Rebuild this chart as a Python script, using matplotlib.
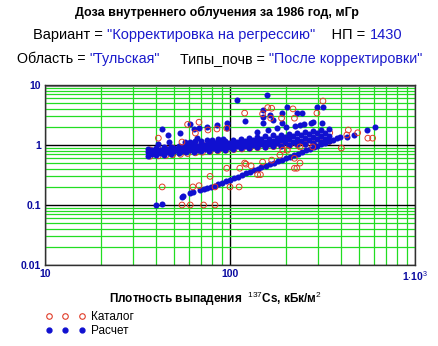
import matplotlib.pyplot as plt
from matplotlib.lines import Line2D

plt.rcParams['font.family'] = ['Liberation Sans', 'DejaVu Sans']
plt.rcParams['mathtext.fontset'] = 'custom'
plt.rcParams['mathtext.rm'] = 'Liberation Sans'
plt.rcParams['mathtext.bf'] = 'Liberation Sans:bold'

# Расчет: основная полоса (три уровня на каждую плотность)
band_x = [36, 40, 44, 48, 53, 58, 64, 70, 77, 85, 94, 104, 115, 127, 140, 155, 171, 189, 209, 231, 255, 282, 312, 345]
band_low = [0.66, 0.68, 0.69, 0.71, 0.73, 0.75, 0.77, 0.79, 0.80, 0.82, 0.84, 0.86, 0.88, 0.90, 0.92, 0.94, 0.96, 0.98, 1.00, 1.02, 1.05, 1.08, 1.12, 1.18]
band_mid = [0.76, 0.78, 0.80, 0.82, 0.85, 0.87, 0.89, 0.91, 0.94, 0.96, 0.99, 1.02, 1.05, 1.08, 1.11, 1.14, 1.17, 1.21, 1.24, 1.28, 1.31, 1.35, 1.39, 1.43]
band_high = [0.86, 0.89, 0.91, 0.94, 0.97, 1.00, 1.03, 1.06, 1.09, 1.12, 1.16, 1.20, 1.25, 1.29, 1.34, 1.39, 1.44, 1.49, 1.54, 1.60, 1.66, 1.72, 1.78, 1.82]
band2_x = [38, 42, 46, 50, 55, 61, 67, 73, 81, 89, 99, 109, 121, 133, 147, 163, 180, 199, 220, 243, 268, 296, 328]
band2_q1 = [0.72, 0.74, 0.75, 0.78, 0.80, 0.82, 0.84, 0.86, 0.88, 0.90, 0.93, 0.95, 0.98, 1.00, 1.03, 1.05, 1.08, 1.11, 1.14, 1.17, 1.20, 1.24, 1.28]
band2_q3 = [0.82, 0.84, 0.87, 0.89, 0.92, 0.95, 0.97, 1.00, 1.03, 1.06, 1.09, 1.13, 1.17, 1.20, 1.24, 1.28, 1.33, 1.37, 1.42, 1.46, 1.51, 1.56, 1.60]

# Расчет: нижняя линия
calc_line_x = [40, 43, 55, 56, 61, 63, 69, 72, 75, 79, 83, 86, 90, 95, 100, 105, 110, 116, 122, 128, 134, 141, 148, 156,
               164, 172, 181, 190, 200, 210, 221, 232, 244, 256, 269, 283, 297, 312, 328, 345, 362, 380, 395]
calc_line_y = [0.10, 0.102, 0.137, 0.14, 0.16, 0.165, 0.18, 0.185, 0.19, 0.20, 0.21, 0.22, 0.235, 0.249, 0.265, 0.28, 0.297,
               0.318, 0.339, 0.36, 0.38, 0.40, 0.425, 0.45, 0.48, 0.51, 0.54, 0.57, 0.61, 0.64, 0.68, 0.72, 0.77, 0.81, 0.86,
               0.91, 0.96, 1.02, 1.08, 1.15, 1.22, 1.29, 1.36]

# Расчет: отдельные точки
calc_out_x = [43, 46, 47, 41, 54, 61, 64, 68, 75, 85, 57, 61, 65, 70, 75, 80, 86, 92, 96,
              109, 158, 204, 190, 150, 150, 150, 171, 120, 96, 230, 245, 239, 295, 318, 280, 164, 190, 315,
              140, 160, 180, 200, 225, 250, 275, 550, 608, 428, 466, 66]
calc_out_y = [1.85, 1.47, 1.12, 1.03, 1.58, 2.2, 1.85, 1.9, 2.0, 2.15, 1.12, 1.12, 1.15, 1.18, 1.2, 1.22, 1.25, 1.28, 1.9,
              5.6, 6.8, 4.3, 3.4, 3.8, 2.9, 2.3, 2.6, 2.5, 2.3, 3.4, 3.4, 2.15, 4.3, 4.3, 2.4, 3.2, 2.3, 2.3,
              1.65, 1.8, 1.9, 2.0, 2.1, 2.2, 2.3, 1.78, 2.0, 1.36, 1.47, 1.3]

# Каталог: полосы
cat_band_x = [37, 41, 45, 49, 54, 59, 65, 71, 78, 86, 95, 105, 116, 128, 141, 156, 172, 190, 210, 232, 256, 283, 313, 346]
cat_band_low = [0.65, 0.66, 0.67, 0.69, 0.70, 0.72, 0.74, 0.76, 0.78, 0.80, 0.82, 0.84, 0.86, 0.88, 0.90, 0.92, 0.94, 0.96, 0.98, 1.00, 1.03, 1.06, 1.10, 1.15]
cat_band_up = [0.83, 0.85, 0.87, 0.89, 0.92, 0.95, 0.97, 1.00, 1.02, 1.05, 1.08, 1.11, 1.14, 1.18, 1.21, 1.25, 1.29, 1.33, 1.37, 1.41, 1.45, 1.50, 1.55, 1.60]

# Каталог: отдельные точки
cat_out_x = [41, 59, 68, 65, 76, 85, 55, 78, 43, 63, 68, 83, 55, 61, 72, 83, 100, 112, 96, 120, 122, 113, 141, 146,
             186, 204, 230, 239, 239, 318, 295, 120, 219, 168, 160, 166, 190, 223, 556, 590, 490, 428, 436, 280, 400,
             223, 96, 150, 168, 193, 223, 150, 130]
cat_out_y = [1.3, 2.2, 2.4, 1.58, 1.78, 1.85, 1.12, 0.30, 0.2, 0.2, 0.21, 0.2, 0.1, 0.1, 0.1, 0.1, 0.2, 0.2, 0.41, 0.5, 0.48, 0.41, 0.32, 0.32,
             0.68, 0.82, 0.41, 0.5, 0.93, 5.4, 3.4, 3.4, 4.0, 4.1, 4.2, 2.8, 2.8, 2.8, 1.3, 1.3, 1.6, 1.47, 1.78, 0.93, 0.89,
             0.41, 1.9, 3.3, 0.56, 0.82, 0.6, 0.52, 0.45]

BLUE = '#1010d0'
RED = '#e03c28'
TXT_BLUE = '#1a1acc'
TICK_BLUE = '#0a0aa0'

fig = plt.figure(figsize=(4.38, 3.46), dpi=100)
ax = fig.add_axes([45 / 438, 81 / 346, 370 / 438, 180 / 346])
ax.set_xscale('log')
ax.set_yscale('log')
ax.set_xlim(10, 1000)
ax.set_ylim(0.01, 10)

calc_x = band_x * 3 + band2_x * 2 + calc_line_x + calc_out_x
calc_y = band_low + band_mid + band_high + band2_q1 + band2_q3 + calc_line_y + calc_out_y

# полосы каталога частично закрыты расчетом, отдельные точки каталога сверху
ax.scatter(cat_band_x * 2, cat_band_low + cat_band_up, s=17, facecolors='none', edgecolors=RED,
           linewidths=0.7, zorder=3)
ax.scatter(calc_x, calc_y, s=19, color=BLUE, linewidths=0, zorder=4)
ax.scatter(cat_out_x, cat_out_y, s=17, facecolors='none', edgecolors=RED, linewidths=0.7, zorder=5)

# сетка
ax.grid(which='minor', color='#22dd22', lw=0.9)
ax.grid(which='major', color='black', lw=1)
ax.set_axisbelow(True)
for val, gl in zip(ax.get_yticks(), ax.get_ygridlines()):
    if abs(val - 1) < 1e-9:
        gl.set_color('#808080')
        gl.set_linewidth(2.2)
for sp in ax.spines.values():
    sp.set_color('#303030')
    sp.set_linewidth(1)

ax.set_xticks([10, 100, 1000])
ax.set_xticklabels(['10', '100', r'1$\cdot$10$^3$'])
ax.set_yticks([0.01, 0.1, 1, 10])
ax.set_yticklabels(['0.01', '0.1', '1', '10'])
ax.tick_params(which='both', length=0, labelsize=7.5, labelcolor=TICK_BLUE, pad=3)
for lab in ax.get_xticklabels() + ax.get_yticklabels():
    lab.set_fontweight('bold')

ax.set_xlabel('Плотность выпадения  $^{137}$Cs, кБк/м$^2$', fontsize=8.5, fontweight='bold', labelpad=5)
ax.xaxis.label.set_x((215 - 45) / 370)

# заголовки
fig.text(217 / 438, 1 - 12 / 346, 'Доза внутреннего облучения за 1986 год, мГр',
         fontsize=9, fontweight='bold', ha='center', va='center')

renderer = fig.canvas.get_renderer()


def draw_parts(parts, x0, y, size):
    x = x0
    for s, c in parts:
        t = fig.text(x / 438, 1 - y / 346, s, color=c, fontsize=size, ha='left', va='center')
        x += t.get_window_extent(renderer=renderer).width


draw_parts([('Вариант = ', 'black'), ('"Корректировка на регрессию"', TXT_BLUE),
            ('    НП = ', 'black'), ('1430', TXT_BLUE)], 33, 35, 10.5)
draw_parts([('Область = ', 'black'), ('"Тульская"', TXT_BLUE),
            ('     Типы_почв = ', 'black'), ('"После корректировки"', TXT_BLUE)], 17, 59, 10.3)

handles = [Line2D([], [], ls='none', marker='o', ms=4, mfc='none', mec=RED, mew=0.8),
           Line2D([], [], ls='none', marker='o', ms=3.5, mfc=BLUE, mec=BLUE)]
fig.legend(handles, ['Каталог', 'Расчет'], loc='upper left', bbox_to_anchor=(45 / 438, 1 - 311 / 346),
           frameon=False, numpoints=3, fontsize=8.5, handlelength=3.4, handletextpad=0.5,
           labelspacing=0.15, borderaxespad=0, borderpad=0)

fig.savefig('out.png', dpi=100)
